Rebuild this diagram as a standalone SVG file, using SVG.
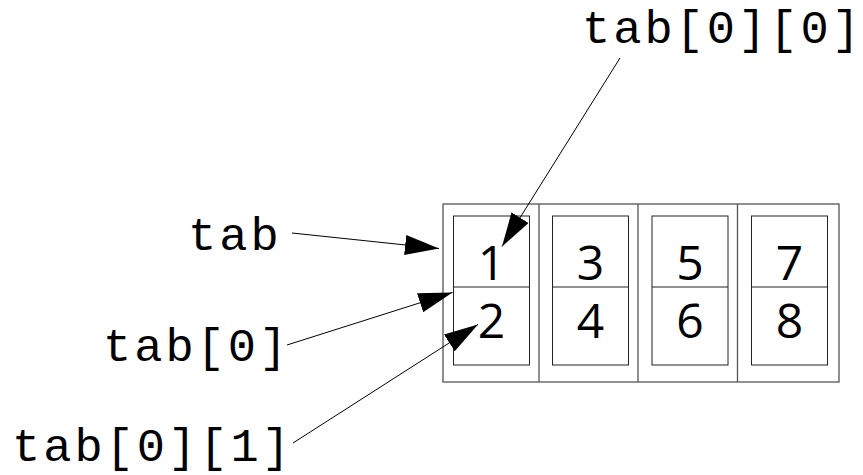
<svg xmlns="http://www.w3.org/2000/svg" width="863" height="475" viewBox="0 0 863 475">
<style>
.lbl{font-family:"Liberation Mono","Courier New",monospace;font-size:47px;letter-spacing:3px;fill:#000}
.num{font-family:"Open Sans","Noto Sans",sans-serif;font-size:48px;fill:#000;text-anchor:middle}
.outer{fill:#fff;stroke:#555;stroke-width:1.3}
.inner{fill:#fff;stroke:#222;stroke-width:1}
.conn{stroke:#000;stroke-width:1;fill:none;marker-end:url(#ah)}
</style>
<defs>
<marker id="ah" markerUnits="userSpaceOnUse" markerWidth="36" markerHeight="22" refX="34" refY="10" orient="auto">
<path d="M0,0 L34,10 L0,20 z" fill="#000"/>
</marker>
</defs>
<g id="array">
<rect class="outer" x="443" y="204" width="396" height="178"/>
<line x1="539" y1="204" x2="539" y2="382" stroke="#555" stroke-width="1.3"/>
<line x1="638" y1="204" x2="638" y2="382" stroke="#555" stroke-width="1.3"/>
<line x1="737.5" y1="204" x2="737.5" y2="382" stroke="#555" stroke-width="1.3"/>
</g>
<g id="cell0">
<rect class="inner" x="453.5" y="216" width="76" height="149"/>
<line x1="453.5" y1="287" x2="529.5" y2="287" stroke="#222"/>
<text class="num" x="491.5" y="280">1</text>
<text class="num" x="491.5" y="338">2</text>
</g>
<g id="cell1">
<rect class="inner" x="552.5" y="216" width="76" height="149"/>
<line x1="552.5" y1="287" x2="628.5" y2="287" stroke="#222"/>
<text class="num" x="590.5" y="280">3</text>
<text class="num" x="590.5" y="338">4</text>
</g>
<g id="cell2">
<rect class="inner" x="652" y="216" width="76" height="149"/>
<line x1="652" y1="287" x2="728" y2="287" stroke="#222"/>
<text class="num" x="690" y="280">5</text>
<text class="num" x="690" y="338">6</text>
</g>
<g id="cell3">
<rect class="inner" x="751.5" y="216" width="76" height="149"/>
<line x1="751.5" y1="287" x2="827.5" y2="287" stroke="#222"/>
<text class="num" x="789.5" y="280">7</text>
<text class="num" x="789.5" y="338">8</text>
</g>
<g id="lbl-tab"><text class="lbl" x="188" y="250">tab</text></g>
<g id="lbl-tab0"><text class="lbl" x="103" y="361">tab[0]</text></g>
<g id="lbl-tab01"><text class="lbl" x="12" y="461">tab[0][1]</text></g>
<g id="lbl-tab00"><text class="lbl" x="582" y="43">tab[0][0]</text></g>
<g id="connectors">
<line class="conn" x1="292" y1="233" x2="439" y2="248.5"/>
<line class="conn" x1="287" y1="345" x2="452.5" y2="292.5"/>
<line class="conn" x1="293" y1="443" x2="478" y2="324.5"/>
<line class="conn" x1="620" y1="58" x2="502" y2="246.5"/>
</g>
</svg>
